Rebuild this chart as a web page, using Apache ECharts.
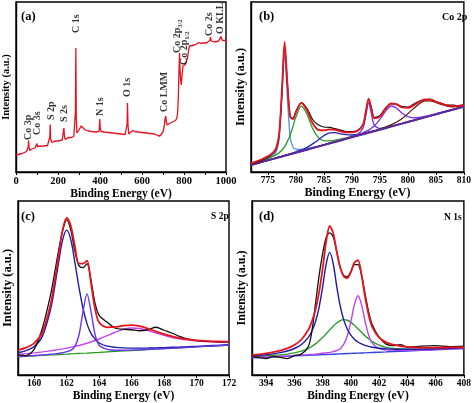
<!DOCTYPE html>
<html>
<head>
<meta charset="utf-8">
<script src="https://cdn.jsdelivr.net/npm/echarts@6/dist/echarts.min.js"></script>
<style>
html,body{margin:0;padding:0;background:#fff;}
#chart{width:474px;height:403px;}
</style>
</head>
<body>
<div id="chart"></div>
<script>
// ---------- Panel (a): survey spectrum ----------
const ENERGY_A = [0,10,20,30,40,50,55,58,60,62,
 65,75,90,98,100,102,110,130,150,158,
 161,163,165,170,180,190,200,210,220,225,
 228,231,235,245,250,255,265,275,280,283,
 285,287,290,300,310,320,330,345,360,380,
 395,397,399,401,405,420,440,460,480,500,
 520,527,529,531,533,537,545,555,565,580,
 600,620,640,660,675,685,692,700,706,710,
 713,716,720,730,740,750,760,766,770,773,
 776,779,781,784,787,790,795,800,805,810,
 817,822,827,835,850,860,870,880,890,900,
 910,918,923,926,929,935,945,955,965,972,
 976,979,983,990,1000];
const SURVEY_A = [17,17.5,18,18.5,19.5,20.5,21.5,25,31.5,25,
 21.5,23,24,25,28.5,25.5,25.5,26,26.5,27,
 35,47.5,33,29.5,30.5,31,31,31.5,32,34,
 44,35,32.5,34,35.5,34.5,34.5,35.5,36,60,
 124,55,39,42,46,44,42,41,40.5,40,
 40.5,44,53,44,40.5,40,39.5,39,38.5,38,
 37.5,38,48,69,48,38,39,41.5,40.5,40,
 39.5,39,38.5,38,36.5,36,37,40,46,53,
 56,50,47,48.5,49.5,50.5,51.5,54,60,75,
 100,119,103,92,87,95,106,104,107,110,
 114,122,126,126.5,127,128,129.5,128.5,129,129,
 129.5,130,131.5,135,131,129.5,130,130.5,131,133,
 135.5,134,131.5,131,131.5];
const ANNOT_LABELS = ['Co 3p','Co 3s','S 2p','S 2s','C 1s','N 1s','O 1s','Co LMM','Co 2p{s|3/2}','Co 2p{s|1/2}','Co 2s','O KLL'];
const ANNOT_E = [61,103,168,230,290,404,530,709,770,803,920,972];
const ANNOT_V = [32,37,52,50,139,56,75,60,119,107,136,138];
const TICKS_A = [0,200,400,600,800,1000];

// ---------- Panel (b): Co 2p ----------
const ENERGY_B = [772,773,774,775,776,776.5,777,777.5,778,778.5,779,779.5,780,781,782,783,784,785,786,787,788,789,790,791,792,792.5,793,793.5,794,795,796,797,798,799,800,801,802,803,804,805,806,807,808,809,810];
const CO_BASE  = [7.0,8.5,10.1,11.6,13.1,13.9,14.7,15.4,16.2,17.0,17.7,18.5,19.3,20.8,22.3,23.9,25.4,26.9,28.5,30.0,31.5,33.1,34.6,36.1,37.7,38.5,39.2,40.0,40.7,42.3,43.8,45.4,46.9,48.4,50.0,51.5,53.0,54.6,56.1,57.6,59.2,60.7,62.2,63.8,65.3];
const CO_PEAK1 = [7.4,9.1,11.0,13.3,16.7,20.2,31.7,72.4,118.2,74.0,34.7,24.8,22.9,22.5,23.3,24.5,25.8,27.2,28.8,30.2,31.7,33.25,34.75,36.2,37.8,38.6,39.3,40.1,40.8,42.4,43.9,45.5,47.0,48.5,50.1,51.6,53.1,54.7,56.2,57.7,59.3,60.8,62.3,63.9,65.4];
const CO_SAT1  = [7.9,9.6,11.5,13.5,15.8,17.3,19.2,21.7,25.4,30.6,37.3,45.7,54.7,65.8,57.7,43.5,34.6,31.4,31.2,31.9,32.9,34.2,35.5,36.8,38.3,39.1,39.7,40.5,41.2,42.7,44.2,45.7,47.2,48.7,50.3,51.7,53.2,54.8,56.3,57.8,59.4,60.8,62.3,63.9,65.4];
const CO_SAT2  = [7.15,8.7,10.3,11.85,13.4,14.2,15.1,15.8,16.7,17.5,18.3,19.2,20.2,22.2,24.7,28.1,32.1,36.3,39.2,39.4,38.2,37.3,37.0,37.5,38.6,39.3,39.8,40.55,41.2,42.7,44.1,45.65,47.1,48.6,50.15,51.6,53.1,54.7,56.2,57.7,59.3,60.8,62.3,63.9,65.4];
const CO_PEAK2 = [7.1,8.6,10.2,11.7,13.2,14.0,14.8,15.5,16.3,17.1,17.8,18.6,19.4,20.9,22.4,24.0,25.5,27.1,28.65,30.2,31.75,33.45,35.2,37.4,43.9,56.6,69.2,58.1,46.9,43.6,44.4,45.75,47.15,48.6,50.15,51.6,53.1,54.7,56.2,57.7,59.3,60.8,62.3,63.9,65.4];
const CO_PEAK3 = [7.1,8.6,10.2,11.7,13.2,14.0,14.8,15.5,16.35,17.15,17.85,18.65,19.45,21.0,22.5,24.1,25.65,27.2,28.85,30.4,32.0,33.7,35.4,37.1,39.2,40.6,41.9,43.9,46.0,52.6,60.7,66.0,63.8,58.7,55.3,54.2,54.5,55.6,56.9,58.2,59.7,61.1,62.55,64.1,65.55];
const CO_SAT3  = [7.05,8.55,10.15,11.65,13.2,14.0,14.8,15.5,16.3,17.1,17.85,18.6,19.4,20.9,22.45,24.0,25.55,27.05,28.65,30.15,31.7,33.3,34.85,36.4,38.05,38.9,39.6,40.45,41.2,43.0,44.85,47.1,49.9,53.55,58.25,63.4,68.1,71.1,71.2,69.5,67.45,65.85,65.2,65.5,66.35];
const CO_FIT   = [8.6,10.6,12.85,15.65,19.95,24.15,36.85,79.35,130,88.4,55.2,53.0,59.5,69.2,61.45,48.7,42.1,41.55,42.6,42.25,40.7,39.65,39.6,40.9,47.25,60.45,73.4,63.5,53.65,55.4,63.0,68.6,67.55,64.5,64.1,66.55,70.0,72.5,72.4,70.45,68.3,66.55,65.85,66.05,66.85];
const CO_RAW   = [8.0,9.8,11.9,14.5,18.8,23.0,35.5,78.0,126.0,88.0,55.5,53.8,60.5,69.5,63.5,52.5,47.2,45.0,44.6,43.3,41.9,40.4,40.3,41.5,47.8,60.0,72.5,63.8,54.6,56.2,63.8,68.2,67.9,65.3,64.9,67.6,70.8,72.1,73.0,70.3,68.8,66.9,66.8,66.3,67.1];
const TICKS_B = [775,780,785,790,795,800,805,810];

// ---------- Panel (c): S 2p ----------
const ENERGY_C = [159,159.5,160,160.5,161,161.25,161.5,161.75,162,162.25,162.5,162.75,163,163.25,163.5,163.75,164,164.5,165,165.5,166,166.5,167,167.5,168,168.5,169,169.5,170,170.5,171,171.5,172];
const S_BASE  = [18.3,18.75,19.2,19.65,20.1,20.3,20.55,20.8,21.0,21.25,21.45,21.7,21.9,22.1,22.35,22.6,22.8,23.25,23.7,24.15,24.6,25.05,25.5,25.95,26.4,26.85,27.3,27.75,28.2,28.65,29.1,29.55,30.0];
const S_2P32  = [22.4,24.55,28.6,38.85,65.6,87.4,112.95,135.9,145.7,136.35,113.85,88.8,67.4,51.7,41.55,36.1,32.2,29.05,27.8,27.25,27.0,27.05,27.1,27.25,27.5,27.85,28.1,28.45,28.8,29.2,29.6,30.0,30.4];
const S_2P12  = [18.5,19.05,19.55,20.15,20.85,21.25,21.75,22.4,23.5,24.85,28.55,39.7,63.3,81.6,63.75,40.6,29.9,25.75,24.9,24.9,25.1,25.4,25.8,26.2,26.6,27.0,27.45,27.85,28.3,28.75,29.2,29.65,30.1];
const S_SO    = [20.7,21.45,22.3,23.25,24.3,24.9,25.55,26.3,27.0,27.85,28.75,29.7,30.8,31.9,33.25,34.7,36.2,39.55,43.0,45.85,47.3,46.75,44.8,42.25,39.8,37.75,36.2,35.05,34.2,33.65,33.3,33.15,33.1];
const S_FIT   = [25.0,27.55,32.05,42.95,70.55,93.5,120,146,158,150,130,112,112,115,92,66.2,52.7,47.85,48.3,49.7,50.2,49.1,46.7,43.8,41.1,38.9,37.15,35.85,34.9,34.3,33.9,33.7,33.6];
const S_RAW   = [20.5,19.5,26,47,80,102,125,145,156,146,125,110,108,112,95,72,60,53,47,46,45.5,44.5,45.5,48,45,42,38.5,36,34.8,34,33.5,33.2,33];
const TICKS_C = [160,162,164,166,168,170,172];

// ---------- Panel (d): N 1s ----------
const ENERGY_D = [393,393.5,394,394.5,395,395.5,396,396.5,397,397.25,397.5,397.75,398,398.25,398.5,398.75,399,399.25,399.5,399.75,400,400.25,400.5,400.75,401,401.25,401.5,402,402.5,403,403.5,404,405,406,407,408];
const N_BASE  = [17.3,17.6,17.9,18.25,18.55,18.85,19.2,19.5,19.8,19.95,20.1,20.3,20.45,20.6,20.75,20.9,21.05,21.2,21.4,21.55,21.7,21.85,22.0,22.15,22.3,22.5,22.65,22.95,23.25,23.6,23.9,24.2,24.8,25.45,26.1,26.7];
const N_PYRIDINIC = [18.94,19.57,20.33,21.3,22.5,24.15,26.66,30.7,38.15,44.45,53.85,68.1,88.35,111.6,123.35,111.9,88.95,69.0,55.15,46.05,40.05,36.0,33.2,31.2,29.76,28.74,27.95,26.9,26.3,26.03,25.87,25.84,25.98,26.34,26.79,27.25];
const N_PYRROLIC  = [18.17,18.6,19.1,19.7,20.25,21.05,22.25,24.0,26.8,28.95,31.3,34.4,37.65,41.5,45.25,49.1,52.35,54.7,55.7,55.05,53.0,50.05,46.5,43.05,39.5,36.6,33.85,29.95,27.75,26.65,26.1,25.9,26.0,26.32,26.78,27.22];
const N_GRAPHITIC = [17.45,17.8,18.1,18.5,18.85,19.2,19.6,20.0,20.45,20.7,21.0,21.4,21.85,22.3,22.75,23.5,24.65,26.5,31.0,39.55,53.8,70.75,79.7,71.05,54.4,40.5,32.25,26.55,25.25,25.0,24.8,24.85,25.2,25.75,26.32,26.85];
const N_FIT = [19.96,20.77,21.73,23.0,24.5,26.7,30.1,35.7,45.8,54.2,65.95,83.3,106.95,134.2,149.85,142.7,123.85,107.8,99.05,97.55,103.45,113.1,115.4,101.0,79.06,60.84,48.75,37.5,32.8,30.48,28.97,28.19,27.58,27.51,27.69,27.92];
const N_RAW = [18.5,17.5,16.5,18.5,17.8,16.5,19.5,21,29,45,72,100,122,138,143,139,124,108,100,99,104,111,111,101,82,64,51,38,31,29.5,30.5,28,29,29.5,28.5,29];
const TICKS_D = [394,396,398,400,402,404,406,408];

// ---------- chart ----------
const FONT = 'Liberation Serif';
const chart = echarts.init(document.getElementById('chart'), null, {renderer:'canvas'});

function pairs(xs, ys){ return xs.map((x,i)=>[x, ys[i]]); }

function xAxisCfg(idx, min, max, ticks, tickFont, nameFont){
  const cfg = {
    type:'value', gridIndex:idx, min:min, max:max, position:'bottom',
    axisLine:{show:true, onZero:false, lineStyle:{color:'#000', width:1.4}},
    axisTick:{show:true, inside:false, length:3, lineStyle:{color:'#000', width:1}},
    axisLabel:{show:true, color:'#000', fontFamily:FONT, fontWeight:'bold', fontSize:tickFont, margin:4,
      formatter:(v)=>String(v)},
    splitLine:{show:false},
    name:'Binding Energy (eV)', nameLocation:'middle', nameGap:15,
    nameTextStyle:{color:'#000', fontFamily:FONT, fontWeight:'bold', fontSize:nameFont}
  };
  if (idx === 0) {
    cfg.interval = 200;
    cfg.minorTick = {show:true, splitNumber:2, length:3, lineStyle:{color:'#000', width:1}};
  } else {
    cfg.axisTick.customValues = ticks;
    cfg.axisLabel.customValues = ticks;
  }
  return cfg;
}
function yAxisCfg(idx, max, nameFont){
  return {
    type:'value', gridIndex:idx, min:0, max:max,
    axisLine:{show:true, onZero:false, lineStyle:{color:'#000', width:1.4}},
    axisTick:{show:false}, axisLabel:{show:false}, splitLine:{show:false},
    name:'Intensity (a.u.)', nameLocation:'middle', nameGap:4,
    nameTextStyle:{color:'#000', fontFamily:FONT, fontWeight:'bold', fontSize:nameFont}
  };
}
function line(idx, xs, ys, color, width, z, smooth){
  return {
    type:'line', xAxisIndex:idx, yAxisIndex:idx, data:pairs(xs, ys),
    showSymbol:false, symbol:'none', smooth: smooth === undefined ? 0.3 : smooth,
    lineStyle:{color:color, width:width}, z:z, silent:true
  };
}
const titleStyle = (size)=>({color:'#000', fontFamily:FONT, fontWeight:'bold', fontSize:size});

const option = {
  animation:false,
  backgroundColor:'#fff',
  title:[
    {text:'(a)', left:16, top:5, textStyle:titleStyle(12.5)},
    {text:'(b)', left:254, top:5, textStyle:titleStyle(12.5)},
    {text:'Co 2p', left:437, top:7, textStyle:titleStyle(10)},
    {text:'(c)', left:16, top:205, textStyle:titleStyle(12.5)},
    {text:'S 2p', left:206, top:207, textStyle:titleStyle(9.5)},
    {text:'(d)', left:254, top:205, textStyle:titleStyle(12.5)},
    {text:'N 1s', left:439, top:208, textStyle:titleStyle(9.5)}
  ],
  grid:[
    {left:13, top:2, width:213, height:170, show:true, borderColor:'#000', borderWidth:1.4, backgroundColor:'transparent'},
    {left:251, top:2, width:215, height:170, show:true, borderColor:'#000', borderWidth:1.4, backgroundColor:'transparent'},
    {left:13, top:201, width:216, height:175, show:true, borderColor:'#000', borderWidth:1.4, backgroundColor:'transparent'},
    {left:252, top:201, width:214, height:175, show:true, borderColor:'#000', borderWidth:1.4, backgroundColor:'transparent'}
  ],
  xAxis:[
    xAxisCfg(0, 0, 1000, TICKS_A, 10.5, 11.5),
    xAxisCfg(1, 772, 810, TICKS_B, 9.5, 12),
    xAxisCfg(2, 159, 172, TICKS_C, 9.5, 11.5),
    xAxisCfg(3, 393, 408, TICKS_D, 9.5, 11.5)
  ],
  yAxis:[
    yAxisCfg(0, 170, 10.5),
    yAxisCfg(1, 170, 12.5),
    yAxisCfg(2, 175, 12.5),
    yAxisCfg(3, 175, 12)
  ],
  series:[
    // (a)
    line(0, ENERGY_A, SURVEY_A, '#e8101e', 1.3, 5, false),
    {
      type:'scatter', xAxisIndex:0, yAxisIndex:0, symbolSize:1, z:6, silent:true,
      itemStyle:{color:'transparent'},
      data: ANNOT_E.map((e,i)=>({value:[e, ANNOT_V[i]], label:{formatter: ANNOT_LABELS[i]}})),
      label:{show:true, position:'inside', rotate:90, align:'left', verticalAlign:'middle',
        color:'#000', fontFamily:FONT, fontWeight:'bold', fontSize:10, lineHeight:12,
        rich:{s:{fontSize:6.5, fontFamily:FONT, fontWeight:'bold', color:'#000', verticalAlign:'bottom', lineHeight:12}}}
    },
    // (b)
    line(1, ENERGY_B, CO_PEAK1, '#4a8fe8', 1.3, 2),
    line(1, ENERGY_B, CO_SAT1,  '#2a9a2a', 1.3, 2),
    line(1, ENERGY_B, CO_SAT2,  '#2020b8', 1.3, 2),
    line(1, ENERGY_B, CO_PEAK2, '#5a3ce0', 1.3, 2),
    line(1, ENERGY_B, CO_PEAK3, '#7a2ee0', 1.3, 2),
    line(1, ENERGY_B, CO_SAT3,  '#5a1010', 1.2, 2),
    line(1, ENERGY_B, CO_BASE,  '#5b2a9c', 2, 3, false),
    line(1, ENERGY_B, CO_RAW,   '#111111', 1.2, 4),
    line(1, ENERGY_B, CO_FIT,   '#e8141c', 1.8, 5),
    // (c)
    line(2, ENERGY_C, S_BASE, '#1f9a1f', 1.2, 2, false),
    line(2, ENERGY_C, S_SO,   '#c444ee', 1.4, 2),
    line(2, ENERGY_C, S_2P32, '#1c1ca8', 1.4, 3),
    line(2, ENERGY_C, S_2P12, '#6a33ee', 1.4, 3),
    line(2, ENERGY_C, S_RAW,  '#111111', 1.3, 4),
    line(2, ENERGY_C, S_FIT,  '#e8141c', 1.8, 5),
    // (d)
    line(3, ENERGY_D, N_BASE, '#3344dd', 1.4, 2, false),
    line(3, ENERGY_D, N_PYRROLIC,  '#2a9a2a', 1.4, 2),
    line(3, ENERGY_D, N_GRAPHITIC, '#c040f0', 1.4, 3),
    line(3, ENERGY_D, N_PYRIDINIC, '#1a1aa8', 1.4, 3),
    line(3, ENERGY_D, N_RAW, '#111111', 1.3, 4),
    line(3, ENERGY_D, N_FIT, '#e8141c', 1.8, 5)
  ]
};
chart.setOption(option);
</script>
</body>
</html>
